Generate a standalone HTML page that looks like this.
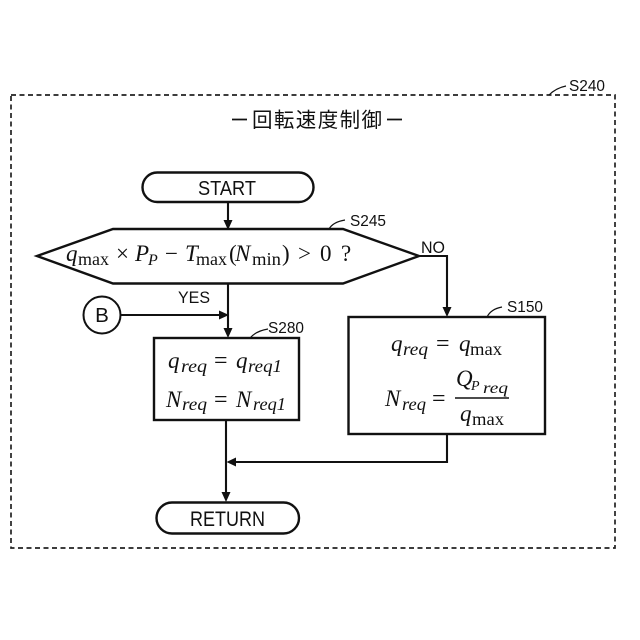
<!DOCTYPE html>
<html><head><meta charset="utf-8"><style>
html,body{margin:0;padding:0;background:#fff}
svg{display:block}
.s{font-family:"Liberation Sans",sans-serif;fill:#111}
.m{font-family:"Liberation Serif",serif;fill:#111}
.i{font-style:italic}
</style></head><body>
<svg width="640" height="640" viewBox="0 0 640 640" xmlns="http://www.w3.org/2000/svg">
<rect width="640" height="640" fill="#fff"/>
<rect x="11" y="95" width="604" height="453" fill="none" stroke="#222" stroke-width="1.700" stroke-dasharray="5 3.500"/>
<g fill="none" stroke="#111" stroke-width="1.200">
<path d="M549 95Q556 88 566 86M329 229Q333 222 345 220M487 317Q491 309 502 307M250 338Q256 331 268 329"/>
</g>
<text class="s" x="569" y="91" font-size="16" textLength="36" lengthAdjust="spacingAndGlyphs">S240</text>
<text class="s" x="350" y="226" font-size="16" textLength="36" lengthAdjust="spacingAndGlyphs">S245</text>
<text class="s" x="507" y="312" font-size="16" textLength="36" lengthAdjust="spacingAndGlyphs">S150</text>
<text class="s" x="268" y="333" font-size="16" textLength="36" lengthAdjust="spacingAndGlyphs">S280</text>
<path d="M232 119.500H247M387 119.500H402" stroke="#111" stroke-width="1.800"/>
<text x="252" y="127" font-family="'Liberation Sans','Noto Sans CJK JP',sans-serif" font-size="20.500" fill="#111" textLength="130">回転速度制御</text>
<g fill="#fff" stroke="#111" stroke-width="2.400">
<rect x="142.500" y="172.500" width="171" height="29.500" rx="14.750"/>
<polygon points="37,256 113,229 343,229 419,256 343,283.500 113,283.500"/>
<circle cx="102" cy="315" r="18.500" stroke-width="2"/>
<rect x="154" y="338" width="145" height="82"/>
<rect x="348.500" y="317" width="196.500" height="117"/>
<rect x="156.500" y="502.500" width="142.500" height="31" rx="15.500"/>
</g>
<g fill="none" stroke="#111" stroke-width="2.100">
<path d="M228 202V222M228 284V331M121 315H221M226 420V495M419 256H447V310M447 434V462H233"/>
</g>
<g fill="#111">
<path d="M223.500 220H232.500L228 230ZM223.500 328H232.500L228 338ZM219 310.500L229 315L219 319.500ZM442.500 307H451.500L447 317ZM221.500 492H230.500L226 502ZM236 457.500V466.500L226.500 462Z"/>
</g>
<text class="s" x="198" y="195" font-size="20.500" textLength="58" lengthAdjust="spacingAndGlyphs">START</text>
<text class="s" x="190" y="526" font-size="21" textLength="75" lengthAdjust="spacingAndGlyphs">RETURN</text>
<text class="s" x="102" y="322" font-size="20.500" text-anchor="middle">B</text>
<text class="s" x="178" y="303" font-size="16.500" textLength="32" lengthAdjust="spacingAndGlyphs">YES</text>
<text class="s" x="421" y="253" font-size="16.500" textLength="24" lengthAdjust="spacingAndGlyphs">NO</text>
<text class="m i" x="66" y="261" font-size="23">q</text>
<text class="m" x="78" y="265" font-size="18" textLength="31" lengthAdjust="spacingAndGlyphs">max</text>
<text class="m" x="116" y="261" font-size="23">×</text>
<text class="m i" x="135" y="261" font-size="23">P</text>
<text class="m i" x="148" y="265" font-size="16">P</text>
<text class="m" x="165" y="261" font-size="23">−</text>
<text class="m i" x="185" y="261" font-size="23">T</text>
<text class="m" x="196" y="265" font-size="18" textLength="31" lengthAdjust="spacingAndGlyphs">max</text>
<text class="m" x="229" y="261" font-size="23">(</text>
<text class="m i" x="235" y="261" font-size="23">N</text>
<text class="m" x="252" y="265" font-size="18" textLength="29" lengthAdjust="spacingAndGlyphs">min</text>
<text class="m" x="282" y="261" font-size="23">)</text>
<text class="m" x="298" y="261" font-size="23">&gt;</text>
<text class="m" x="320" y="261" font-size="23">0</text>
<text class="m" x="341" y="261" font-size="23">?</text>
<text class="m i" x="168" y="368" font-size="23">q</text>
<text class="m i" x="181" y="372" font-size="18" textLength="26" lengthAdjust="spacingAndGlyphs">req</text>
<text class="m" x="214" y="368" font-size="24">=</text>
<text class="m i" x="236" y="368" font-size="23">q</text>
<text class="m i" x="248" y="372" font-size="18" textLength="34" lengthAdjust="spacingAndGlyphs">req1</text>
<text class="m i" x="166" y="407" font-size="23">N</text>
<text class="m i" x="182" y="410" font-size="18" textLength="25" lengthAdjust="spacingAndGlyphs">req</text>
<text class="m" x="214" y="407" font-size="24">=</text>
<text class="m i" x="236" y="407" font-size="23">N</text>
<text class="m i" x="253" y="410" font-size="18" textLength="33" lengthAdjust="spacingAndGlyphs">req1</text>
<text class="m i" x="391" y="351" font-size="23">q</text>
<text class="m i" x="403" y="355" font-size="18" textLength="25" lengthAdjust="spacingAndGlyphs">req</text>
<text class="m" x="436" y="351" font-size="24">=</text>
<text class="m i" x="459" y="351" font-size="23">q</text>
<text class="m" x="470" y="355" font-size="18" textLength="32" lengthAdjust="spacingAndGlyphs">max</text>
<text class="m i" x="385" y="406" font-size="23">N</text>
<text class="m i" x="402" y="410" font-size="18" textLength="24" lengthAdjust="spacingAndGlyphs">req</text>
<text class="m" x="432" y="406" font-size="24">=</text>
<text class="m i" x="456" y="386" font-size="23">Q</text>
<text class="m i" x="471" y="390" font-size="14">P</text>
<text class="m i" x="483" y="393" font-size="16" textLength="25" lengthAdjust="spacingAndGlyphs">req</text>
<path d="M455 398H509" stroke="#111" stroke-width="1.500"/>
<text class="m i" x="460" y="421" font-size="23">q</text>
<text class="m" x="472" y="425" font-size="18" textLength="32" lengthAdjust="spacingAndGlyphs">max</text>
</svg>
</body></html>
